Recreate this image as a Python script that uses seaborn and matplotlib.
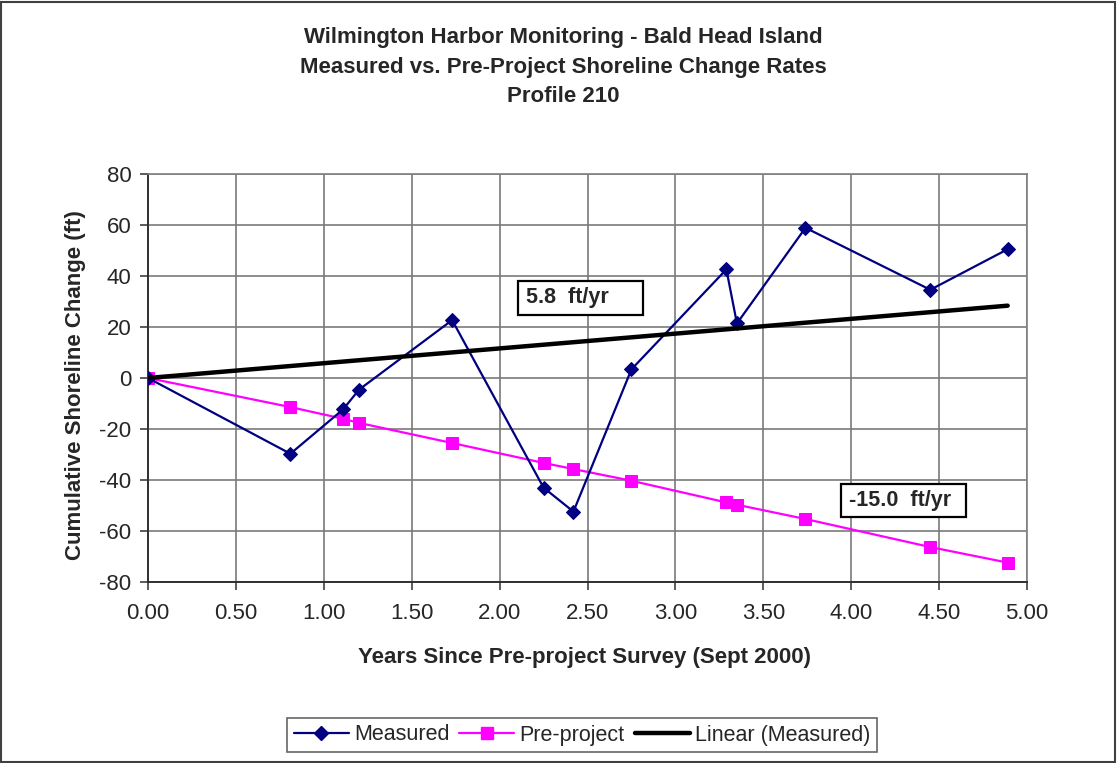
import numpy as np
import pandas as pd
import matplotlib
matplotlib.use("Agg")
import matplotlib.pyplot as plt
from matplotlib.patches import Rectangle
from matplotlib.lines import Line2D
import seaborn as sns

# Survey epochs (years since the Sept 2000 pre-project survey)
years = [0.00, 0.81, 1.11, 1.20, 1.73, 2.25, 2.42, 2.75, 3.29, 3.35, 3.74, 4.45, 4.89]
# Cumulative measured shoreline change (ft)
measured = [0.0, -29.7, -12.3, -4.6, 22.7, -43.0, -52.4, 3.4, 42.6, 21.4, 58.9, 34.6, 50.5]
# Shoreline position projected from the pre-project rate (ft)
pre_project = [0.0, -11.4, -16.0, -17.6, -25.5, -33.3, -35.7, -40.3, -48.8, -49.7, -55.3, -66.3, -72.4]

# Rates shown in the call-out boxes (ft/yr)
measured_rate = 5.8
pre_project_rate = -15.0

title_lines = [
    "Wilmington Harbor Monitoring - Bald Head Island",
    "Measured vs. Pre-Project Shoreline Change Rates",
    "Profile 210",
]
x_ticks = [0.0, 0.5, 1.0, 1.5, 2.0, 2.5, 3.0, 3.5, 4.0, 4.5, 5.0]
y_ticks = [-80, -60, -40, -20, 0, 20, 40, 60, 80]

sns.set_theme(style="white")
plt.rcParams["font.family"] = ["Liberation Sans", "DejaVu Sans"]

W, H = 1117, 763
fig = plt.figure(figsize=(W / 100, H / 100), dpi=100)
ax = fig.add_axes([148 / W, 1 - 582 / H, (1027 - 148) / W, (582 - 174) / H])

df = pd.DataFrame({"years": years, "measured": measured, "pre": pre_project})

NAVY = "#000080"
MAGENTA = "#FF00FF"

sns.lineplot(data=df, x="years", y="measured", ax=ax, color=NAVY, lw=1.6,
             marker="D", markersize=7, markeredgecolor=NAVY, sort=False,
             estimator=None, zorder=4)
sns.lineplot(data=df, x="years", y="pre", ax=ax, color=MAGENTA, lw=1.6,
             marker="s", markersize=8, markeredgecolor=MAGENTA, sort=False,
             estimator=None, zorder=3)

# Linear trend of the measured change, through the origin
trend_x = np.array([years[0], years[-1]])
sns.lineplot(x=trend_x, y=measured_rate * trend_x, ax=ax, color="black",
             lw=3.2, zorder=5)

ax.set_xlim(0, 5)
ax.set_ylim(-80, 80)
ax.set_xticks(x_ticks)
ax.set_yticks(y_ticks)
ax.set_xticklabels([f"{v:.2f}" for v in x_ticks])
ax.set_yticklabels([str(v) for v in y_ticks])
ax.grid(True, color="#7a7a7a", lw=1.2)
ax.set_axisbelow(True)
ax.tick_params(axis="both", which="major", direction="out", length=6,
               width=1.2, color="#404040", labelsize=16,
               bottom=True, left=True)
ax.tick_params(axis="x", pad=9)
ax.tick_params(axis="y", pad=6)
for side in ("top", "right"):
    ax.spines[side].set_color("#808080")
    ax.spines[side].set_linewidth(1.2)
for side in ("left", "bottom"):
    ax.spines[side].set_color("#303030")
    ax.spines[side].set_linewidth(1.4)
ax.set_xlabel("")
ax.set_ylabel("")

# Titles
for text, yc in zip(title_lines, [38, 67, 97]):
    fig.text(563 / W, 1 - yc / H, text, ha="center", va="center",
             fontsize=16, fontweight="bold")

fig.text(585 / W, 1 - 657 / H, "Years Since Pre-project Survey (Sept 2000)",
         ha="center", va="center", fontsize=16, fontweight="bold")
fig.text(76 / W, 1 - 385 / H, "Cumulative Shoreline Change (ft)",
         ha="center", va="center", rotation=90, fontsize=16, fontweight="bold")


def rate_box(left, top, right, bottom, label):
    fig.patches.append(Rectangle((left / W, 1 - bottom / H),
                                 (right - left) / W, (bottom - top) / H,
                                 transform=fig.transFigure, fc="white",
                                 ec="black", lw=1.6, zorder=6))
    fig.text((left + 8) / W, 1 - (top + bottom) / 2 / H, label, ha="left",
             va="center", fontsize=15.5, fontweight="bold", zorder=7)


# Rate call-outs
rate_box(518, 281, 643, 315, f"{measured_rate:.1f}  ft/yr")
rate_box(841, 484, 966, 517, f"{pre_project_rate:.1f}  ft/yr")

# Legend
handles = [
    Line2D([], [], color=NAVY, lw=1.6, marker="D", markersize=7),
    Line2D([], [], color=MAGENTA, lw=1.6, marker="s", markersize=8),
    Line2D([], [], color="black", lw=3.2),
]
leg = fig.legend(handles, ["Measured", "Pre-project", "Linear (Measured)"],
                 loc="center", bbox_to_anchor=(582 / W, 1 - 735 / H), ncol=3,
                 frameon=True, fancybox=False, fontsize=15.5,
                 handlelength=2.56, handletextpad=0.25, columnspacing=0.45,
                 borderpad=0.3, borderaxespad=0)
leg.get_frame().set_edgecolor("#404040")
leg.get_frame().set_linewidth(1.2)

# Outer chart border
fig.patches.append(Rectangle((1 / W, 1 / H), (W - 3) / W, (H - 3) / H,
                             transform=fig.transFigure, fill=False,
                             ec="#404040", lw=1.5))

fig.savefig("out.png", dpi=100, facecolor="white")
